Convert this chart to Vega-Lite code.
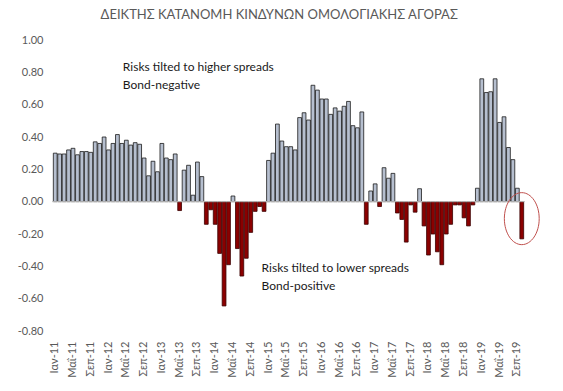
{
  "$schema": "https://vega.github.io/schema/vega-lite/v6.json",
  "autosize": {"type": "none"},
  "padding": {"left": 52, "top": 40, "right": 38, "bottom": 60},
  "width": 473,
  "height": 291,
  "title": {"text": "ΔΕΙΚΤΗΣ ΚΑΤΑΝΟΜΗ ΚΙΝΔΥΝΩΝ ΟΜΟΛΟΓΙΑΚΗΣ ΑΓΟΡΑΣ", "font": "Lato", "fontSize": 13, "fontWeight": "normal", "color": "#595959", "anchor": "middle", "frame": "bounds", "offset": 12},
  "config": {"view": {"stroke": null}},
  "data": {"values": [
    {"month": "Ιαν-11", "value": 0.30}, {"month": "Φεβ-11", "value": 0.295}, {"month": "Μαρ-11", "value": 0.295}, {"month": "Απρ-11", "value": 0.32}, {"month": "Μαΐ-11", "value": 0.33}, {"month": "Ιουν-11", "value": 0.29}, {"month": "Ιουλ-11", "value": 0.31}, {"month": "Αυγ-11", "value": 0.31}, {"month": "Σεπ-11", "value": 0.305}, {"month": "Οκτ-11", "value": 0.37}, {"month": "Νοε-11", "value": 0.36}, {"month": "Δεκ-11", "value": 0.40},
    {"month": "Ιαν-12", "value": 0.32}, {"month": "Φεβ-12", "value": 0.36}, {"month": "Μαρ-12", "value": 0.415}, {"month": "Απρ-12", "value": 0.36}, {"month": "Μαΐ-12", "value": 0.38}, {"month": "Ιουν-12", "value": 0.35}, {"month": "Ιουλ-12", "value": 0.365}, {"month": "Αυγ-12", "value": 0.355}, {"month": "Σεπ-12", "value": 0.27}, {"month": "Οκτ-12", "value": 0.16}, {"month": "Νοε-12", "value": 0.25}, {"month": "Δεκ-12", "value": 0.185},
    {"month": "Ιαν-13", "value": 0.36}, {"month": "Φεβ-13", "value": 0.27}, {"month": "Μαρ-13", "value": 0.26}, {"month": "Απρ-13", "value": 0.295}, {"month": "Μαΐ-13", "value": -0.055}, {"month": "Ιουν-13", "value": 0.195}, {"month": "Ιουλ-13", "value": 0.225}, {"month": "Αυγ-13", "value": 0.04}, {"month": "Σεπ-13", "value": 0.245}, {"month": "Οκτ-13", "value": 0.155}, {"month": "Νοε-13", "value": -0.14}, {"month": "Δεκ-13", "value": -0.05},
    {"month": "Ιαν-14", "value": -0.14}, {"month": "Φεβ-14", "value": -0.32}, {"month": "Μαρ-14", "value": -0.645}, {"month": "Απρ-14", "value": -0.39}, {"month": "Μαΐ-14", "value": 0.035}, {"month": "Ιουν-14", "value": -0.29}, {"month": "Ιουλ-14", "value": -0.46}, {"month": "Αυγ-14", "value": -0.35}, {"month": "Σεπ-14", "value": -0.19}, {"month": "Οκτ-14", "value": -0.06}, {"month": "Νοε-14", "value": -0.03}, {"month": "Δεκ-14", "value": -0.06},
    {"month": "Ιαν-15", "value": 0.255}, {"month": "Φεβ-15", "value": 0.30}, {"month": "Μαρ-15", "value": 0.48}, {"month": "Απρ-15", "value": 0.375}, {"month": "Μαΐ-15", "value": 0.34}, {"month": "Ιουν-15", "value": 0.34}, {"month": "Ιουλ-15", "value": 0.32}, {"month": "Αυγ-15", "value": 0.52}, {"month": "Σεπ-15", "value": 0.55}, {"month": "Οκτ-15", "value": 0.505}, {"month": "Νοε-15", "value": 0.72}, {"month": "Δεκ-15", "value": 0.69},
    {"month": "Ιαν-16", "value": 0.635}, {"month": "Φεβ-16", "value": 0.635}, {"month": "Μαρ-16", "value": 0.54}, {"month": "Απρ-16", "value": 0.58}, {"month": "Μαΐ-16", "value": 0.56}, {"month": "Ιουν-16", "value": 0.59}, {"month": "Ιουλ-16", "value": 0.62}, {"month": "Αυγ-16", "value": 0.47}, {"month": "Σεπ-16", "value": 0.457}, {"month": "Οκτ-16", "value": 0.555}, {"month": "Νοε-16", "value": -0.14}, {"month": "Δεκ-16", "value": 0.066},
    {"month": "Ιαν-17", "value": 0.11}, {"month": "Φεβ-17", "value": -0.03}, {"month": "Μαρ-17", "value": 0.21}, {"month": "Απρ-17", "value": 0.145}, {"month": "Μαΐ-17", "value": 0.175}, {"month": "Ιουν-17", "value": -0.07}, {"month": "Ιουλ-17", "value": -0.11}, {"month": "Αυγ-17", "value": -0.25}, {"month": "Σεπ-17", "value": -0.02}, {"month": "Οκτ-17", "value": -0.065}, {"month": "Νοε-17", "value": 0.08}, {"month": "Δεκ-17", "value": -0.15},
    {"month": "Ιαν-18", "value": -0.33}, {"month": "Φεβ-18", "value": -0.20}, {"month": "Μαρ-18", "value": -0.31}, {"month": "Απρ-18", "value": -0.39}, {"month": "Μαΐ-18", "value": -0.20}, {"month": "Ιουν-18", "value": -0.14}, {"month": "Ιουλ-18", "value": -0.02}, {"month": "Αυγ-18", "value": -0.02}, {"month": "Σεπ-18", "value": -0.10}, {"month": "Οκτ-18", "value": -0.15}, {"month": "Νοε-18", "value": -0.02}, {"month": "Δεκ-18", "value": 0.083},
    {"month": "Ιαν-19", "value": 0.76}, {"month": "Φεβ-19", "value": 0.675}, {"month": "Μαρ-19", "value": 0.68}, {"month": "Απρ-19", "value": 0.76}, {"month": "Μαΐ-19", "value": 0.49}, {"month": "Ιουν-19", "value": 0.525}, {"month": "Ιουλ-19", "value": 0.335}, {"month": "Αυγ-19", "value": 0.26}, {"month": "Σεπ-19", "value": 0.083}, {"month": "Οκτ-19", "value": -0.23}
  ]},
  "encoding": {
    "x": {"field": "month", "type": "ordinal", "sort": null, "title": null,
      "scale": {"paddingInner": 0.15, "paddingOuter": 0.3},
      "axis": {"labelAngle": -90, "domain": false, "ticks": false, "labelPadding": 10, "labelFont": "Lato", "labelFontSize": 11, "labelColor": "#595959",
        "values": ["Ιαν-11","Μαΐ-11","Σεπ-11","Ιαν-12","Μαΐ-12","Σεπ-12","Ιαν-13","Μαΐ-13","Σεπ-13","Ιαν-14","Μαΐ-14","Σεπ-14","Ιαν-15","Μαΐ-15","Σεπ-15","Ιαν-16","Μαΐ-16","Σεπ-16","Ιαν-17","Μαΐ-17","Σεπ-17","Ιαν-18","Μαΐ-18","Σεπ-18","Ιαν-19","Μαΐ-19","Σεπ-19"]}},
    "y": {"type": "quantitative", "title": null,
      "scale": {"domain": [-0.8, 1.0], "nice": false, "zero": false},
      "axis": {"values": [-0.8, -0.6, -0.4, -0.2, 0, 0.2, 0.4, 0.6, 0.8, 1.0], "grid": false, "domain": false, "ticks": false, "labelPadding": 9, "labelFont": "Lato", "labelFontSize": 11, "labelColor": "#595959",
        "labelExpr": "replace(format(datum.value, '.2f'), '\u2212', '-')"}}
  },
  "layer": [
    {
      "mark": {"type": "bar", "strokeWidth": 0.8},
      "encoding": {
        "y": {"field": "value", "type": "quantitative"},
        "y2": {"datum": 0},
        "fill": {"condition": {"test": "datum.value < 0", "value": "#8b0000"}, "value": "#b6bfcf"},
        "stroke": {"condition": {"test": "datum.value < 0", "value": "#3a0000"}, "value": "#1a1a1a"}
      }
    },
    {
      "data": {"values": [{}]},
      "mark": {"type": "rule", "color": "#bfbfbf", "strokeWidth": 1},
      "encoding": {"y": {"datum": 0}, "x": null}
    },
    {
      "data": {"values": [{}]},
      "mark": {"type": "text", "align": "left", "baseline": "middle", "font": "Lato", "fontSize": 12, "color": "#1a1a1a", "dx": 1},
      "encoding": {"x": {"datum": "Απρ-12"}, "y": {"datum": 0.83}, "text": {"value": "Risks tilted to higher spreads"}}
    },
    {
      "data": {"values": [{}]},
      "mark": {"type": "text", "align": "left", "baseline": "middle", "font": "Lato", "fontSize": 12, "color": "#1a1a1a", "dx": 1},
      "encoding": {"x": {"datum": "Απρ-12"}, "y": {"datum": 0.72}, "text": {"value": "Bond-negative"}}
    },
    {
      "data": {"values": [{}]},
      "mark": {"type": "text", "align": "left", "baseline": "middle", "font": "Lato", "fontSize": 12, "color": "#1a1a1a", "dx": 2},
      "encoding": {"x": {"datum": "Νοε-14"}, "y": {"datum": -0.41}, "text": {"value": "Risks tilted to lower spreads"}}
    },
    {
      "data": {"values": [{}]},
      "mark": {"type": "text", "align": "left", "baseline": "middle", "font": "Lato", "fontSize": 12, "color": "#1a1a1a", "dx": 2},
      "encoding": {"x": {"datum": "Νοε-14"}, "y": {"datum": -0.52}, "text": {"value": "Bond-positive"}}
    },
    {
      "data": {"values": [{}]},
      "mark": {"type": "point", "shape": "M-0.67,0A0.67,1 0 1,0 0.67,0A0.67,1 0 1,0 -0.67,0Z", "size": 2704, "filled": false, "color": "#c0504d", "strokeWidth": 1, "opacity": 1},
      "encoding": {"x": {"datum": "Οκτ-19"}, "y": {"datum": -0.105}}
    }
  ]
}
